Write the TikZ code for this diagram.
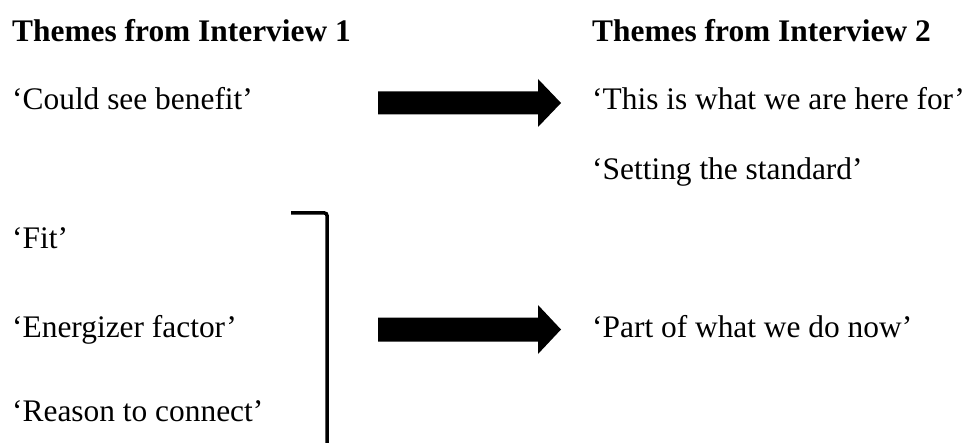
\documentclass[tikz,border=0pt]{standalone}
\usepackage{fontspec}
\setmainfont{Liberation Serif}
\begin{document}
\begin{tikzpicture}[x=1pt,y=-1pt,
  txt/.style={anchor=base west, inner sep=0pt, font=\fontsize{31.4}{37}\selectfont},
  hdr/.style={txt, font=\fontsize{31.4}{37}\selectfont\bfseries},
  blockarrow/.style={fill=black, draw=none},
  bracketline/.style={line width=3.5pt, rounded corners=2.5pt}]
\useasboundingbox (0,0) rectangle (968,443);
% left column
\node[hdr] (h1) at (12,42) {Themes from Interview 1};
\node[txt] (a1) at (12,110) {‘Could see benefit’};
\node[txt] (a2) at (12,249) {‘Fit’};
\node[txt] (a3) at (12,337) {‘Energizer factor’};
\node[txt] (a4) at (12,421) {‘Reason to connect’};
% right column
\node[hdr] (h2) at (592,42) {Themes from Interview 2};
\node[txt] (b1) at (592,110) {‘This is what we are here for’};
\node[txt] (b2) at (592,180) {‘Setting the standard’};
\node[txt] (b3) at (592,337) {‘Part of what we do now’};
% arrows
\fill[blockarrow] (378,91.5) -- (538,91.5) -- (538,79) -- (561,103) -- (538,127) -- (538,114.5) -- (378,114.5) -- cycle;
\fill[blockarrow] (378,317.5) -- (538,317.5) -- (538,305) -- (561,329.5) -- (538,354) -- (538,341.5) -- (378,341.5) -- cycle;
% bracket
\coordinate (bt) at (291,213);
\coordinate (bc) at (327,213);
\coordinate (bb) at (327,443);
\draw[bracketline] (bt) -- (bc) -- (bb);
\end{tikzpicture}
\end{document}
